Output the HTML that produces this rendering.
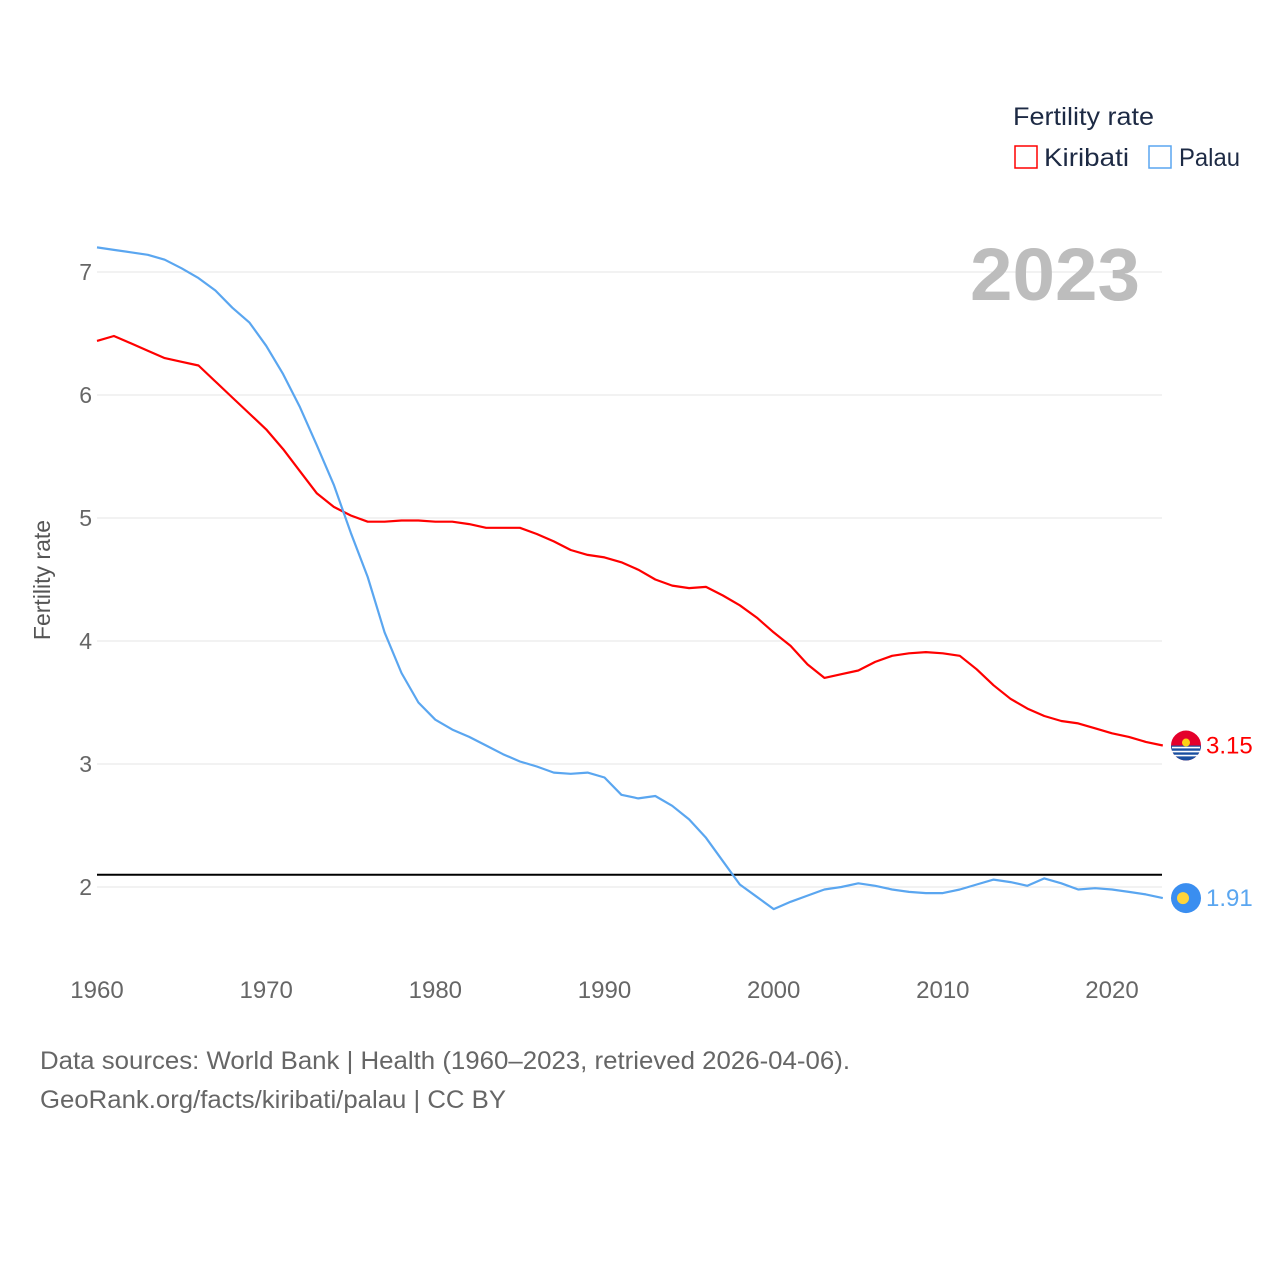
<!DOCTYPE html>
<html><head><meta charset="utf-8"><style>
body{margin:0;background:#fff;font-family:"Liberation Sans",sans-serif}
svg text{font-family:"Liberation Sans",sans-serif}
</style></head><body>
<svg id="c" width="1280" height="1280" xmlns="http://www.w3.org/2000/svg">
<rect width="1280" height="1280" fill="#fff"/>
<g id="grid"></g><g id="lines"></g>
<text x="1013" y="125" font-size="25" fill="#1d2a44" textLength="141" lengthAdjust="spacingAndGlyphs">Fertility rate</text>
<rect x="1015" y="146" width="22" height="22" fill="none" stroke="#f00" stroke-width="1.5"/>
<text x="1044" y="166" font-size="25" fill="#1d2a44" textLength="85" lengthAdjust="spacingAndGlyphs">Kiribati</text>
<rect x="1149" y="146" width="22" height="22" fill="none" stroke="#5aa6f0" stroke-width="1.5"/>
<text x="1179" y="166" font-size="25" fill="#1d2a44" textLength="61" lengthAdjust="spacingAndGlyphs">Palau</text>
<text x="970" y="300" font-size="74" font-weight="bold" fill="#bdbdbd" textLength="170" lengthAdjust="spacingAndGlyphs">2023</text>
<text transform="translate(50,580) rotate(-90)" font-size="23" fill="#555" text-anchor="middle">Fertility rate</text>
<text x="40" y="1069" font-size="25" fill="#666" textLength="810" lengthAdjust="spacingAndGlyphs">Data sources: World Bank | Health (1960–2023, retrieved 2026-04-06).</text>
<text x="40" y="1108" font-size="25" fill="#666" textLength="466" lengthAdjust="spacingAndGlyphs">GeoRank.org/facts/kiribati/palau | CC BY</text>
</svg>
<script>
const years=[];for(let y=1960;y<=2023;y++)years.push(y);
const kiribati=[6.44,6.48,6.42,6.36,6.30,6.27,6.24,6.11,5.98,5.85,5.72,5.56,5.38,5.20,5.09,5.02,4.97,4.97,4.98,4.98,4.97,4.97,4.95,4.92,4.92,4.92,4.87,4.81,4.74,4.70,4.68,4.64,4.58,4.50,4.45,4.43,4.44,4.37,4.29,4.19,4.07,3.96,3.81,3.70,3.73,3.76,3.83,3.88,3.90,3.91,3.90,3.88,3.77,3.64,3.53,3.45,3.39,3.35,3.33,3.29,3.25,3.22,3.18,3.15];
const palau=[7.20,7.18,7.16,7.14,7.10,7.03,6.95,6.85,6.71,6.59,6.40,6.17,5.90,5.59,5.27,4.88,4.52,4.07,3.74,3.50,3.36,3.28,3.22,3.15,3.08,3.02,2.98,2.93,2.92,2.93,2.89,2.75,2.72,2.74,2.66,2.55,2.40,2.21,2.02,1.92,1.82,1.88,1.93,1.98,2.00,2.03,2.01,1.98,1.96,1.95,1.95,1.98,2.02,2.06,2.04,2.01,2.07,2.03,1.98,1.99,1.98,1.96,1.94,1.91];
const yTicks=[2,3,4,5,6,7];
const xTicks=[1960,1970,1980,1990,2000,2010,2020];
const replacement=2.1;
const X=y=>97+(y-1960)*(1015/60);
const Y=v=>887-(v-2)*123;
const NS="http://www.w3.org/2000/svg";
const grid=document.getElementById('grid'),lines=document.getElementById('lines');
function mk(tag,attrs,parent,txt){const e=document.createElementNS(NS,tag);for(const k in attrs)e.setAttribute(k,attrs[k]);if(txt!==undefined)e.textContent=txt;parent.appendChild(e);return e;}
yTicks.forEach(t=>{
 const l=mk('line',{x1:97,x2:1162,y1:Y(t),y2:Y(t),stroke:'#e6e6e6','stroke-width':1},grid);
 
 
 const tx=mk('text',{x:92,y:Y(t)+8,'font-size':23,fill:'#666','text-anchor':'end'},grid,String(t));
 
 
});
xTicks.forEach(t=>{
 const tx=mk('text',{x:X(t),y:998,'font-size':24,fill:'#666','text-anchor':'middle'},grid,String(t));
 
 
});
const rl=mk('line',{x1:97,x2:1162,y1:Y(replacement),y2:Y(replacement),stroke:'#000','stroke-width':2},lines);


function series(vals,color,name){
 const p=mk('path',{d:vals.map((v,i)=>(i?'L':'M')+X(years[i]).toFixed(1)+','+Y(v).toFixed(1)).join(''),fill:'none',stroke:color,'stroke-width':2.2,'stroke-linejoin':'round'},lines);
 
 
 const last=vals[vals.length-1],ly=Y(last);
 const g=mk('g',{},lines);
 
 
 if(name==='kiribati'){
  mk('circle',{cx:1186,cy:ly,r:15,fill:'#e4002b'},g);
  mk('path',{d:`M1171,${ly} A15,15 0 0,0 1201,${ly} Z`,fill:'#1a4fa0'},g);
  mk('path',{d:`M1172,${ly+2}h28M1172,${ly+6}h28M1173,${ly+10}h26`,stroke:'#fff','stroke-width':1.6},g);
  mk('circle',{cx:1186,cy:ly-3,r:4,fill:'#fcd116'},g);
 }else{
  mk('circle',{cx:1186,cy:ly,r:15,fill:'#3a8ef0'},g);
  mk('circle',{cx:1183,cy:ly,r:6,fill:'#ffd43a'},g);
 }
 const t=mk('text',{x:1206,y:ly+8,'font-size':24,fill:color},lines,last.toFixed(2));
 
 
}
series(kiribati,'#f00','kiribati');
series(palau,'#5aa6f0','palau');
</script>
</body></html>
